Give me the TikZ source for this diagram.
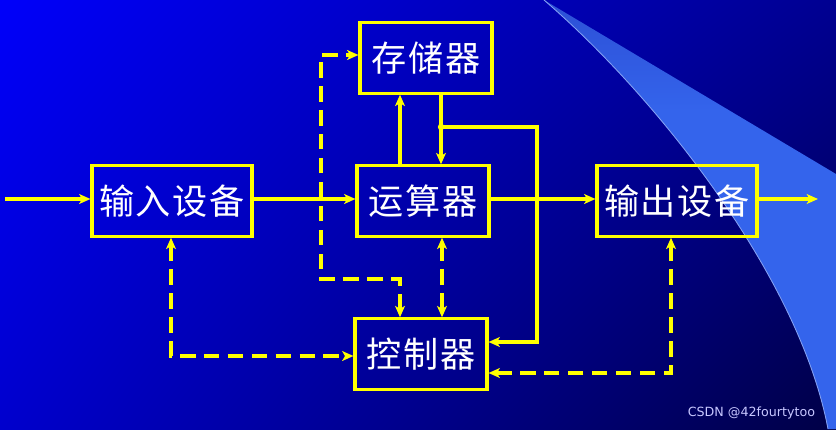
\documentclass[tikz,border=0pt]{standalone}
\usepackage{fontspec}
\newfontfamily\cjk[LetterSpace=5]{Noto Sans CJK SC}
\setsansfont{DejaVu Sans}
\usetikzlibrary{arrows.meta,shadings}
\definecolor{lineyellow}{RGB}{255,255,0}
\definecolor{bgUL}{RGB}{0,0,250}
\definecolor{bgUR}{RGB}{0,0,145}
\definecolor{bgLL}{RGB}{0,0,205}
\definecolor{bgLR}{RGB}{0,0,70}
\definecolor{swlight}{RGB}{52,100,236}
\definecolor{swdark}{RGB}{30,40,170}
\pgfdeclareverticalshading{swooshshade}{100bp}{color(0bp)=(swlight); color(62bp)=(swlight); color(100bp)=(swdark)}
\begin{document}
\begin{tikzpicture}[x=0.025cm, y=-0.025cm,
  box/.style={draw=lineyellow, line width=2.2pt, inner sep=0pt,
    minimum width=3.3cm, minimum height=1.76cm, text=white,
    font=\cjk\fontsize{25}{28}\selectfont},
  flow/.style={draw=lineyellow, line width=2.2pt, -{Stealth[length=8pt, width=7pt, inset=2pt]}},
  ctrl/.style={draw=lineyellow, line width=2.2pt, dash pattern=on 11pt off 6pt,
    {Stealth[length=8pt, width=7pt, inset=2pt]}-{Stealth[length=8pt, width=7pt, inset=2pt]}}]
  % Background
  \useasboundingbox (0,0) rectangle (836,429);
  \shade[upper left=bgUL, upper right=bgUR, lower left=bgLL, lower right=bgLR]
    (0,0) rectangle (836,429);
  % Swoosh
  \shade[shading=swooshshade] (544,0) -- (836,174) -- (836,429) -- (828,429)
    .. controls (800,280) and (660,100) .. (544,0);
  \draw[swlight!60!white, line width=0.6pt] (544,0)
    .. controls (660,100) and (800,280) .. (828,429);
  % Boxes
  \node[box] (cun) at (426,58) {存储器};
  \node[box] (yun) at (423,201) {运算器};
  \node[box] (kong) at (421,354) {控制器};
  \node[box, minimum width=4cm] (shuru) at (172,201) {输入设备};
  \node[box, minimum width=4cm] (shuchu) at (677,201) {输出设备};
  % Free ends and turning points
  \coordinate (in) at (5,199);
  \coordinate (out) at (818,199);
  \coordinate (jct) at (441,127);
  % Data flow
  \draw[flow] (in) -- (shuru.west |- in);
  \draw[flow] (shuru.east |- in) -- (yun.west |- in);
  \draw[flow] (yun.east |- in) -- (shuchu.west |- in);
  \draw[flow] (shuchu.east |- in) -- (out);
  \draw[flow] (yun.north -| 400,0) -- (cun.south -| 400,0);
  \draw[flow] (cun.south -| jct) -- (yun.north -| jct);
  \fill[lineyellow] (jct) circle (3.2);
  \draw[flow] (jct) -- (537,127) |- (kong.east |- 0,342);
  % Control signals
  \draw[ctrl] (kong.north -| 400,0) -- (400,279) -| (321,55) -- (cun.west |- 0,55);
  \draw[ctrl] (yun.south -| 442,0) -- (kong.north -| 442,0);
  \draw[ctrl] (shuru.south -| 171,0) |- (kong.west |- 0,356);
  \draw[ctrl] (shuchu.south -| 671,0) |- (kong.east |- 0,373);
  % Watermark
  \node[text=white!78!blue, font=\sffamily\fontsize{9}{10}\selectfont, anchor=east]
    (mark) at (820,413) {CSDN @42fourtytoo};
\end{tikzpicture}
\end{document}
